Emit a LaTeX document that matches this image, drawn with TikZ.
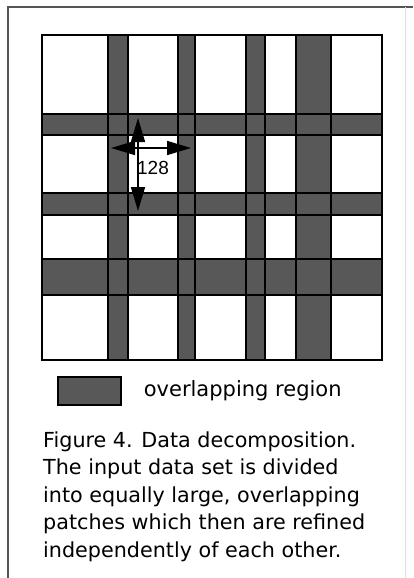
\documentclass[tikz,border=0pt]{standalone}
\usepackage{fontspec}
\setmainfont{DejaVu Sans}
\newfontfamily\labelfont{Liberation Sans}
\usetikzlibrary{
	arrows.meta,
	positioning
}

\definecolor{bandgray}{RGB}{88,88,88}
\definecolor{framegray}{RGB}{85,85,85}

\begin{document}
\begin{tikzpicture}[
		x=1pt, y=-1pt,
		frame/.style={draw=framegray, line width=1.2pt},
		band/.style={fill=bandgray, draw=none},
		gridline/.style={draw=black, line width=1.6pt},
		legend/.style={draw=black, line width=1.2pt, fill=bandgray, minimum width=63pt, minimum height=28pt, inner sep=0pt},
		dim/.style={{Triangle[length=24pt,width=14pt]}-{Triangle[length=24pt,width=14pt]}, line width=1.5pt},
		caption/.style={align=left, font=\fontsize{20.7}{27.5}\selectfont, inner sep=0pt}
		]
		\useasboundingbox (0,0) rectangle (413,578);
		
		% =========================
		% Page frame
		% =========================
		\draw[frame] (413,7) -- (8,7) -- (8,578);
		\draw[draw=black!12, line width=1pt] (405,7) -- (405,578);
		
		% =========================
		% Overlapping bands
		% =========================
		\foreach \a/\b in {108/128, 178/195, 246/265, 296/331}
			\fill[band] (\a,35) rectangle (\b,360);
		\foreach \a/\b in {114/135, 193/215, 259/295}
			\fill[band] (42,\a) rectangle (382,\b);
		
		% =========================
		% Patch borders
		% =========================
		\foreach \x in {108,128,178,195,246,265,296,331}
			\draw[gridline] (\x,35) -- (\x,360);
		\foreach \y in {114,135,193,215,259,295}
			\draw[gridline] (42,\y) -- (382,\y);
		\draw[gridline] (42,35) rectangle (382,360);
		
		% =========================
		% Patch size
		% =========================
		\coordinate (vtop) at (138,118);
		\coordinate (vbot) at (138,211);
		\coordinate (hleft) at (111,148);
		\coordinate (hright) at (191,148);
		\draw[dim] (vtop) -- (vbot);
		\draw[dim] (hleft) -- (hright);
		\node[font=\labelfont\fontsize{19}{19}\selectfont, inner sep=0pt] (size) at (153,167.5) {128};
		
		% =========================
		% Legend
		% =========================
		\node[legend] (legendbox) at (89.5,391) {};
		\node[font=\fontsize{21}{21}\selectfont, inner sep=0pt, right=22pt of legendbox] (legendtext) {overlapping region};
		
		% =========================
		% Caption
		% =========================
		\node[caption, anchor=base west] (caption) at (43,557) {
			Figure 4. Data decomposition.\\
			The input data set is divided\\
			into equally large, overlapping\\
			patches which then are refined\\
			independently of each other.
		};
		
	\end{tikzpicture}
\end{document}
